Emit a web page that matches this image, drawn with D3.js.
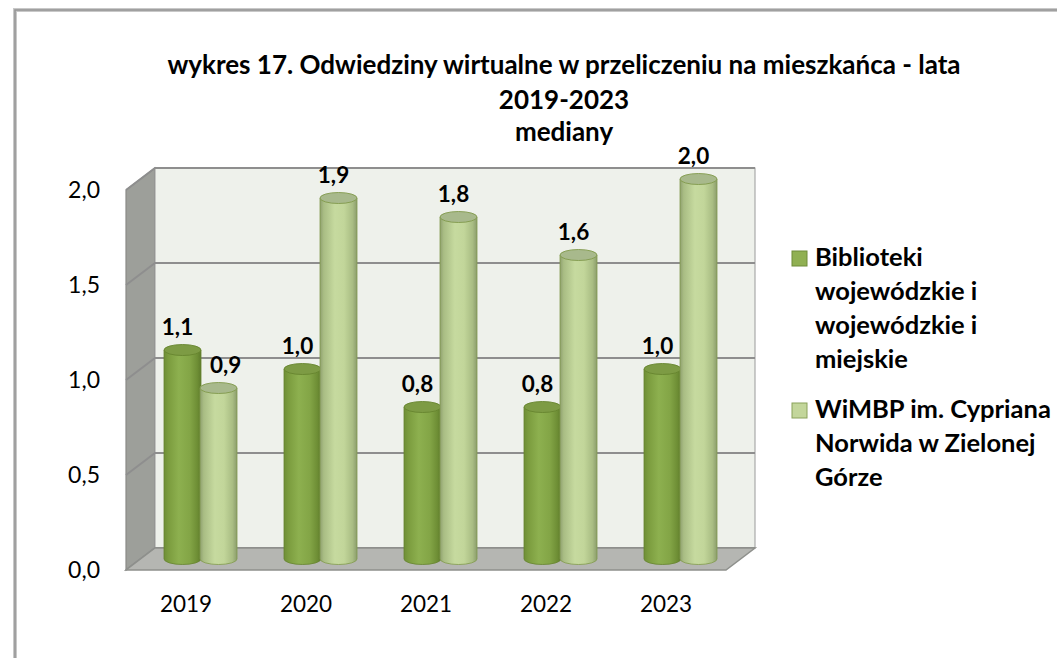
<!DOCTYPE html>
<html><head><meta charset="utf-8">
<script src="https://cdn.jsdelivr.net/npm/d3@7"></script>
<style>
body{margin:0;background:#fff;}
svg{display:block;font-family:Lato,"Liberation Sans",sans-serif;}
</style>
</head><body>
<svg id="chart" width="1057" height="658"></svg>
<script>
const categories = ["2019", "2020", "2021", "2022", "2023"];
const valuesBiblioteki = [1.1, 1.0, 0.8, 0.8, 1.0];
const valuesWiMBP = [0.9, 1.9, 1.8, 1.6, 2.0];
const yTicks = [0, 0.5, 1.0, 1.5, 2.0];
const seriesNames = ["Biblioteki wojewódzkie i wojewódzkie i miejskie", "WiMBP im. Cypriana Norwida w Zielonej Górze"];
const legendLines = [["Biblioteki", "wojewódzkie i", "wojewódzkie i", "miejskie"], ["WiMBP im. Cypriana", "Norwida w Zielonej", "Górze"]];
const titleLines = ["wykres 17. Odwiedziny wirtualne w przeliczeniu na mieszkańca - lata", "2019-2023", "mediany"];

const svg = d3.select("#chart");
const fmt = d => d.toFixed(1).replace(".", ",");

// layout
const X0 = 126, Y0 = 570, W = 600, H = 380, DX = 29, DY = 22;
const x = d3.scaleBand().domain(categories).range([0, W]);
const y = d3.scaleLinear().domain([0, 2]).range([0, H]);
const P = (px, h, t) => [X0 + px + t * DX, Y0 - h - t * DY];

// outer border
svg.append("rect").attr("x", 15).attr("y", 10).attr("width", 1100).attr("height", 700)
  .attr("fill", "none").attr("stroke", "#c8c8c8").attr("stroke-width", 4);
svg.append("rect").attr("x", 15).attr("y", 10).attr("width", 1100).attr("height", 700)
  .attr("fill", "none").attr("stroke", "#979797").attr("stroke-width", 1.6);

// defs
const defs = svg.append("defs");
function grad(id, stops) {
  const g = defs.append("linearGradient").attr("id", id).attr("x1", 0).attr("x2", 1).attr("y1", 0).attr("y2", 0);
  stops.forEach(s => g.append("stop").attr("offset", s[0]).attr("stop-color", s[1]));
}
grad("gDark", [[0, "#6f8e36"], [0.12, "#7b9c3e"], [0.4, "#8db04f"], [0.7, "#83a546"], [0.9, "#6e8e35"], [1, "#5e7b2b"]]);
grad("gLight", [[0, "#8fa06f"], [0.1, "#a9bd84"], [0.4, "#c6da9f"], [0.65, "#c2d69a"], [0.88, "#a9bd83"], [1, "#8b9c6c"]]);

// side wall
const sw = [P(0, 0, 0), P(0, 0, 1), P(0, H, 1), P(0, H, 0)];
svg.append("polygon").attr("points", sw.map(p => p.join(",")).join(" "))
  .attr("fill", "#9d9f9a").attr("stroke", "#8a8b88").attr("stroke-width", 1.2);
// back wall
const bw0 = P(0, H, 1), bw1 = P(W, 0, 1);
svg.append("rect").attr("x", bw0[0]).attr("y", bw0[1]).attr("width", bw1[0] - bw0[0]).attr("height", bw1[1] - bw0[1])
  .attr("fill", "#eef1eb").attr("stroke", "#9a9a9a").attr("stroke-width", 1);

// gridlines
yTicks.forEach(t => {
  const h = y(t);
  const a = P(0, h, 0), b = P(0, h, 1), c = P(W, h, 1);
  svg.append("path").attr("d", `M${a[0]},${a[1]}L${b[0]},${b[1]}L${c[0]},${c[1]}`)
    .attr("fill", "none").attr("stroke", "#8e8e8e").attr("stroke-width", 2);
});

// floor
const fl = [P(0, 0, 0), P(W, 0, 0), P(W, 0, 1), P(0, 0, 1)];
svg.append("polygon").attr("points", fl.map(p => p.join(",")).join(" "))
  .attr("fill", "#b5b6b2").attr("stroke", "#8e908c").attr("stroke-width", 1.5);

// cylinders
const rx = 18.5, ry = 5.5, off = 18;
const series = [
  { vals: valuesBiblioteki, dx: -off, grad: "url(#gDark)", top: "#7d9b44", stroke: "#66842f" },
  { vals: valuesWiMBP, dx: off, grad: "url(#gLight)", top: "#a8b98c", stroke: "#819a4c" }
];
const bars = [];
categories.forEach((c, i) => {
  series.forEach((s, si) => {
    const mid = P(x(c) + x.bandwidth() / 2, 0, 0.5);
    const cx = mid[0] + s.dx, by = mid[1], ty = by - y(s.vals[i]);
    bars.push({ cx, by, ty, si, i, v: s.vals[i] });
    const g = svg.append("g");
    g.append("path").attr("d", `M${cx - rx},${ty}L${cx - rx},${by}A${rx},${ry} 0 0 0 ${cx + rx},${by}L${cx + rx},${ty}Z`)
      .attr("fill", s.grad).attr("stroke", s.stroke).attr("stroke-width", 0.8);
    g.append("ellipse").attr("cx", cx).attr("cy", ty).attr("rx", rx).attr("ry", ry)
      .attr("fill", s.top).attr("stroke", s.stroke).attr("stroke-width", 0.9);
  });
});

// data labels
bars.forEach(b => {
  const t = svg.append("text").attr("x", b.cx - 5).attr("y", b.ty - 15)
    .attr("text-anchor", "middle").attr("font-size", 22.5).attr("font-weight", "bold").attr("fill", "#000")
    .text(fmt(b.v));
  if (b.si === 1) {
    const other = bars.find(o => o.i === b.i && o.si === 0);
    const w = t.node().getComputedTextLength();
    const left = b.cx - 5 - w / 2;
    if (other.ty < b.ty - 15 && left < other.cx + rx) {
      t.attr("x", other.cx + rx + 9 + w / 2);
    }
  }
});

// y axis
const yFront = d3.scaleLinear().domain([0, 2]).range([Y0, Y0 - H]);
const ya = svg.append("g").attr("transform", `translate(${X0},0)`)
  .call(d3.axisLeft(yFront).tickValues(yTicks).tickFormat(fmt).tickSize(0).tickPadding(26));
ya.select(".domain").remove();
ya.selectAll("text").attr("font-size", 23).attr("font-family", "Lato").attr("fill", "#000");

// x axis
const xFront = d3.scaleBand().domain(categories).range([X0, X0 + W]);
const xa = svg.append("g").attr("transform", `translate(0,${Y0})`)
  .call(d3.axisBottom(xFront).tickSize(0).tickPadding(26));
xa.select(".domain").remove();
xa.selectAll("text").attr("font-size", 22.5).attr("font-family", "Lato").attr("fill", "#000");

// title
const titleY = [74, 109, 141];
titleLines.forEach((l, i) => {
  svg.append("text").attr("x", 564).attr("y", titleY[i]).attr("text-anchor", "middle")
    .attr("font-size", 26).attr("font-weight", "bold").attr("fill", "#000").text(l);
});

// legend
const legY = [266, 418];
const legFill = ["#90b052", "#c3d69b"], legStroke = ["#6f8c38", "#8aa25a"];
legendLines.forEach((lines, k) => {
  svg.append("rect").attr("x", 792).attr("y", legY[k] - 15).attr("width", 15).attr("height", 15)
    .attr("fill", legFill[k]).attr("stroke", legStroke[k]).attr("stroke-width", 1);
  const t = svg.append("text").attr("x", 815).attr("y", legY[k]).attr("font-size", 25.5)
    .attr("font-weight", "bold").attr("fill", "#000");
  t.append("title").text(seriesNames[k]);
  lines.forEach((ln, j) => {
    t.append("tspan").attr("x", 815).attr("y", legY[k] + j * 34).text(ln);
  });
});
</script>
</body></html>
